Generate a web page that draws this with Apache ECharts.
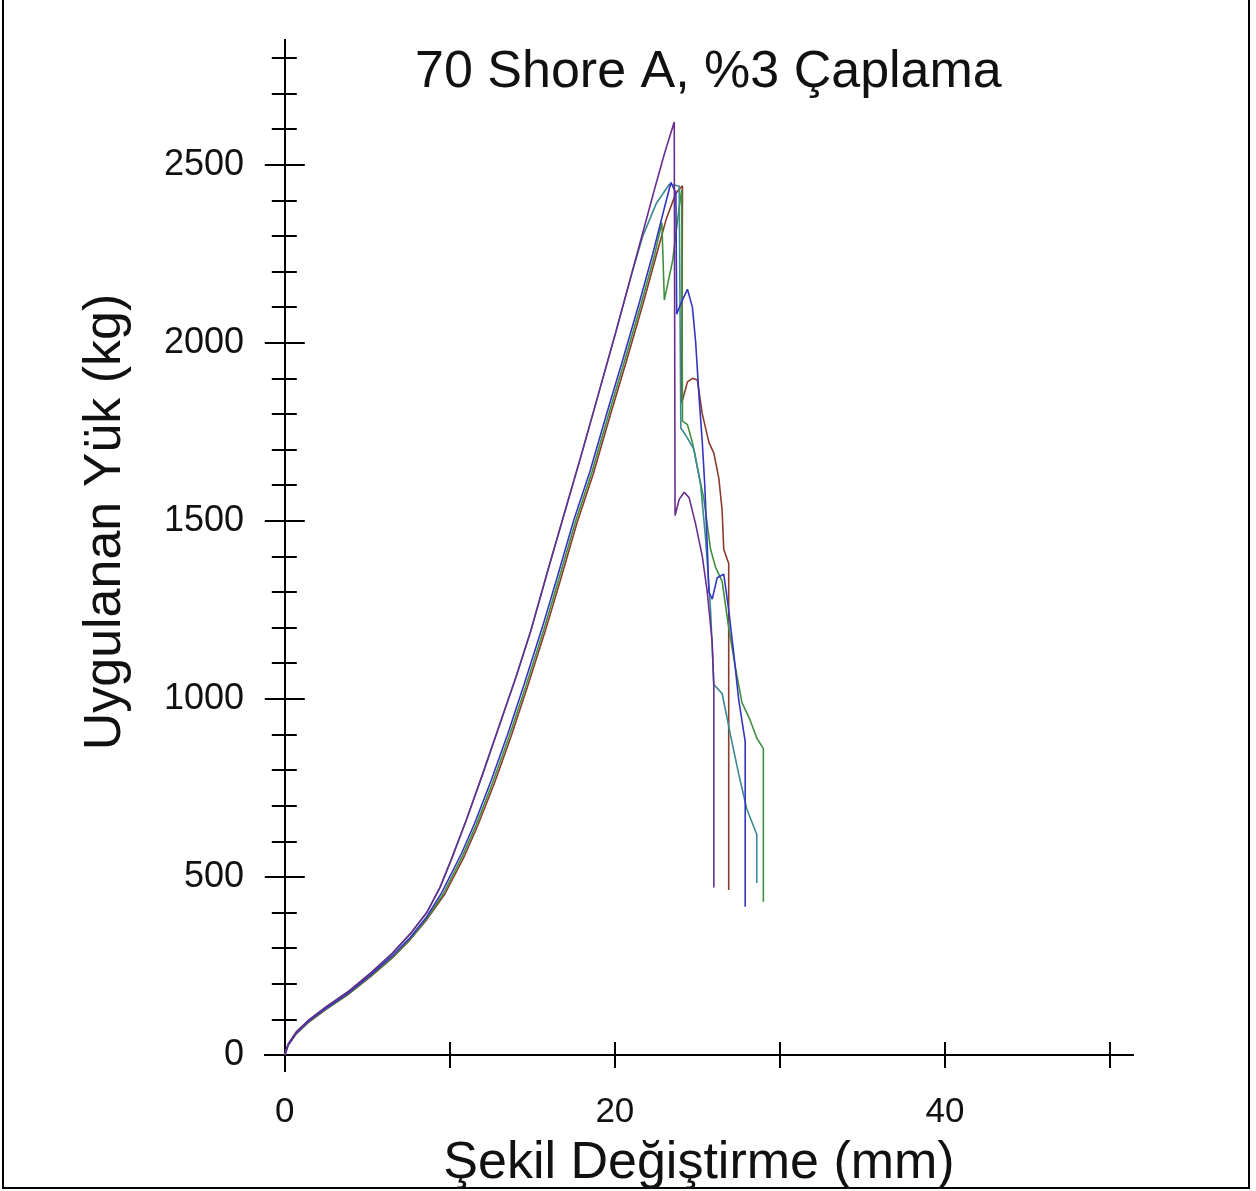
<!DOCTYPE html>
<html>
<head>
<meta charset="utf-8">
<script src="https://cdn.jsdelivr.net/npm/echarts@6/dist/echarts.min.js"></script>
<style>
html,body{margin:0;padding:0;background:#fff;}
#chart{width:1256px;height:1191px;}
</style>
</head>
<body>
<div id="chart"></div>
<script>
// ---- data (deformation mm, load kg) ----
const titleText = '70 Shore A, %3 Çaplama';
const xName = 'Şekil Değiştirme (mm)';
const yName = 'Uygulanan Yük (kg)';
const xTicks = [0, 10, 20, 30, 40, 50];
const xTickLabels = [0, 20, 40];
const yMajorTicks = [0, 500, 1000, 1500, 2000, 2500];
const yMinorTicks = [100, 200, 300, 400, 600, 700, 800, 900, 1100, 1200, 1300, 1400, 1600, 1700, 1800, 1900, 2100, 2200, 2300, 2400, 2600, 2700, 2800];

const seriesPurple = [[0,0],[0.2,30],[0.7,65],[1.5,100],[2.5,135],[3.9,180],[5.2,230],[6.5,285],[7.6,340],[8.6,400],[9.4,470],[10.1,550],[11,660],[12,790],[13,925],[14,1060],[14.9,1190],[16,1370],[17,1530],[18,1690],[19,1855],[20,2020],[21,2190],[21.7,2310],[22.4,2430],[23,2530],[23.6,2620],[23.65,1515],[23.9,1560],[24.2,1580],[24.5,1565],[24.9,1490],[25.3,1400],[25.6,1300],[25.9,1160],[26.0,1030],[26.0,470]];
const seriesTeal = [[0,0],[0.2,30],[0.7,65],[1.5,100],[2.5,135],[3.9,180],[5.2,230],[6.5,285],[7.6,340],[8.6,400],[9.4,470],[10.1,550],[11,660],[12,790],[13,925],[14,1060],[14.9,1190],[16,1370],[17,1530],[18,1690],[19,1855],[20,2020],[21,2190],[21.7,2300],[22.5,2390],[23.3,2445],[23.9,2440],[24.0,1760],[24.3,1740],[24.8,1700],[25.2,1600],[25.5,1450],[25.8,1250],[26.0,1040],[26.5,1015],[27.0,900],[27.5,790],[28.0,690],[28.6,620],[28.6,483]];
const seriesBlue = [[0,0],[0.2,28],[0.7,62],[1.5,97],[2.5,131],[3.9,176],[5.2,225],[6.5,278],[7.6,330],[8.6,388],[9.5,455],[10.7,565],[11.5,650],[12.5,770],[13.5,900],[14.5,1040],[15.6,1200],[16.5,1340],[17.5,1500],[18.5,1640],[19.5,1800],[20.5,1955],[21.5,2115],[22.3,2250],[22.9,2360],[23.4,2450],[23.7,2420],[23.75,2080],[24.0,2110],[24.4,2150],[24.7,2100],[24.9,2000],[25.1,1850],[25.3,1720],[25.45,1600],[25.6,1430],[25.7,1300],[25.9,1280],[26.2,1340],[26.6,1350],[26.9,1250],[27.2,1130],[27.5,1000],[27.9,880],[27.9,416]];
const seriesGreen = [[0,0],[0.2,27],[0.7,61],[1.5,95],[2.5,129],[3.9,173],[5.2,222],[6.5,274],[7.6,326],[8.6,383],[9.6,452],[10.8,562],[11.6,646],[12.6,765],[13.6,895],[14.6,1035],[15.7,1195],[16.6,1335],[17.6,1495],[18.6,1635],[19.6,1795],[20.6,1950],[21.6,2110],[22.4,2245],[22.85,2337],[23.0,2120],[23.5,2230],[23.9,2380],[24.05,2430],[24.1,1780],[24.4,1770],[24.7,1720],[25.0,1650],[25.4,1560],[25.8,1420],[26.1,1370],[26.5,1330],[26.9,1200],[27.3,1090],[27.7,990],[28.2,940],[28.6,890],[29.0,860],[29.0,430]];
const seriesBrown = [[0,0],[0.2,27],[0.7,60],[1.5,94],[2.5,128],[3.9,172],[5.2,220],[6.5,272],[7.6,324],[8.6,380],[9.7,452],[10.9,560],[11.7,645],[12.7,763],[13.7,893],[14.7,1033],[15.8,1193],[16.7,1333],[17.7,1493],[18.7,1633],[19.7,1793],[20.7,1948],[21.7,2108],[22.5,2243],[23.1,2345],[23.7,2420],[24.1,2441],[24.05,1830],[24.4,1890],[24.7,1900],[25.0,1895],[25.3,1800],[25.7,1720],[26.0,1690],[26.3,1620],[26.5,1530],[26.6,1420],[26.9,1380],[26.9,463]];

const seriesList = [
  {name: 'Brown', data: seriesBrown, color: '#8b3b2b'},
  {name: 'Green', data: seriesGreen, color: '#3f8f3f'},
  {name: 'Teal', data: seriesTeal, color: '#3a8a8f'},
  {name: 'Blue', data: seriesBlue, color: '#3535c0'},
  {name: 'Purple', data: seriesPurple, color: '#6a2d8f'}
];

const FONT = "'Liberation Sans', Arial, sans-serif";
const X_MIN = -1.2, X_MAX = 51.4, Y_MIN = -45, Y_MAX = 2850;

function xAxisDef(inside, showLabel) {
  return {
    type: 'value', min: X_MIN, max: X_MAX, position: 'bottom',
    axisLine: {show: true, onZero: true, onZeroAxisIndex: 0, lineStyle: {color: '#000', width: 2}},
    axisTick: {show: true, inside: inside, length: 13, customValues: xTicks, lineStyle: {color: '#000', width: 2}},
    axisLabel: {show: showLabel, customValues: xTickLabels, margin: 24, color: '#111', fontSize: 35, fontFamily: FONT,
      formatter: v => String(v)},
    splitLine: {show: false},
    name: showLabel ? xName : '', nameLocation: 'middle', nameGap: 67,
    nameTextStyle: {fontSize: 52, fontFamily: FONT, color: '#111'}
  };
}
function yAxisDef(inside, ticks, len, showLabel) {
  return {
    type: 'value', min: Y_MIN, max: Y_MAX, position: 'left',
    axisLine: {show: true, onZero: true, onZeroAxisIndex: 0, lineStyle: {color: '#000', width: 2}},
    axisTick: {show: true, inside: inside, length: len, customValues: ticks, lineStyle: {color: '#000', width: 2}},
    axisLabel: {show: showLabel, customValues: yMajorTicks, margin: 21, color: '#111', fontSize: 36, fontFamily: FONT,
      formatter: v => String(v)},
    splitLine: {show: false}
  };
}

const chart = echarts.init(document.getElementById('chart'), null, {renderer: 'canvas'});
chart.setOption({
  animation: false,
  backgroundColor: '#fff',
  title: {
    text: titleText, left: 410, top: 42,
    textStyle: {fontSize: 52, fontWeight: 'normal', fontFamily: FONT, color: '#111'}
  },
  grid: {left: 265, top: 40, width: 868, height: 1031, containLabel: false, outerBoundsMode: 'none'},
  xAxis: [xAxisDef(true, true), xAxisDef(false, false)],
  yAxis: [
    yAxisDef(false, yMajorTicks, 20, true),
    yAxisDef(true, yMajorTicks, 20, false),
    yAxisDef(false, yMinorTicks, 13, false),
    yAxisDef(true, yMinorTicks, 12, false)
  ],
  series: seriesList.map(s => ({
    type: 'line', name: s.name, data: s.data, xAxisIndex: 0, yAxisIndex: 0,
    showSymbol: false, symbol: 'none', smooth: false,
    lineStyle: {color: s.color, width: 1.6}, z: 3
  })),
  graphic: [
    {type: 'text', x: 106, y: 522, rotation: Math.PI / 2,
      style: {text: yName, fontSize: 52, fontFamily: FONT, fill: '#111', textAlign: 'center', textVerticalAlign: 'middle'}},
    {type: 'line', shape: {x1: 3, y1: 0, x2: 3, y2: 1188}, style: {stroke: '#000', lineWidth: 2}},
    {type: 'line', shape: {x1: 1249, y1: 0, x2: 1249, y2: 1188}, style: {stroke: '#000', lineWidth: 2}},
    {type: 'line', shape: {x1: 2, y1: 1188, x2: 1250, y2: 1188}, style: {stroke: '#000', lineWidth: 2}}
  ]
});
</script>
</body>
</html>
